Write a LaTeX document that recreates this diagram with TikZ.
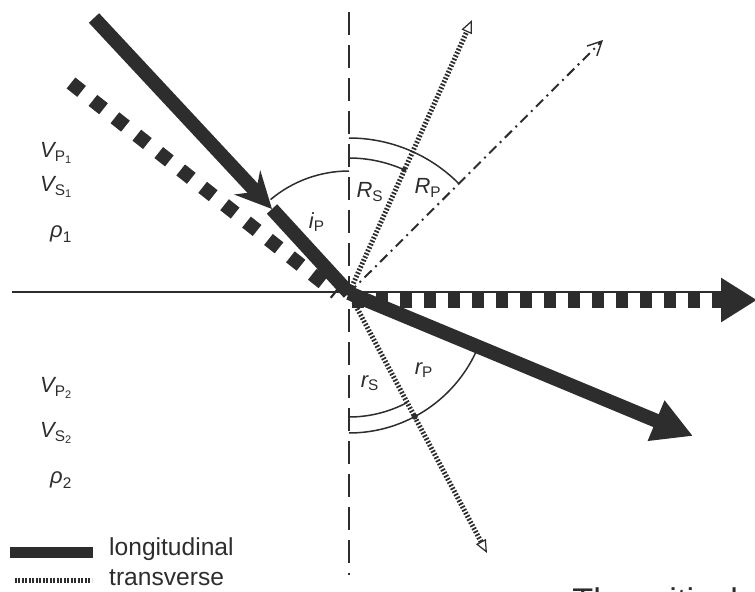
\documentclass[tikz,border=0pt]{standalone}
\usepackage{amsmath}
\usepackage{fontspec}
\setmainfont{Liberation Sans}
\usepackage{tikz}
\usetikzlibrary{arrows.meta}
\definecolor{ink}{RGB}{45,45,45}
% quantity with a nested subscript, e.g. V_{P_1}
\newcommand{\quant}[3]{$\textit{#1}_{\text{#2}_{\text{#3}}}$}
\newcommand{\ang}[2]{$\textit{#1}_{\text{#2}}$}

\begin{document}
\begin{tikzpicture}[x=0.02cm,y=0.02cm,font=\fontsize{12.5}{14}\selectfont,text=ink,
    long/.style={ink,line width=0.28cm},
    trans/.style={ink,line width=0.28cm,dash pattern=on 0.27cm off 0.29cm},
    transflat/.style={ink,line width=0.3cm,dash pattern=on 0.25cm off 0.23cm},
    transthin/.style={ink,line width=0.1cm,dash pattern=on 0.035cm off 0.035cm},
    reflp/.style={ink,line width=0.04cm,dash pattern=on 0.2cm off 0.1cm on 0.04cm off 0.1cm},
    normalline/.style={ink,line width=0.05cm,dash pattern=on 0.46cm off 0.2cm},
    angarc/.style={ink,line width=0.03cm},
    openhead/.style={-{Triangle[open,line width=0.7pt,length=0.26cm,width=0.22cm]}}]
  \useasboundingbox (0,0) rectangle (755,-592);
  % --- key points (pixel grid, y downwards as negative) ---
  \coordinate (O)   at (349,-293);
  \coordinate (Pin) at (94,-18);   \coordinate (Pmid) at (272,-209);
  \coordinate (Sin) at (71,-83);   \coordinate (Send) at (336,-293);
  \coordinate (Pt)  at (693,-436); % refracted P
  \coordinate (Sh0) at (352,-300); \coordinate (St) at (757,-300); % along interface
  \coordinate (RSt) at (472,-20);  \coordinate (RPt) at (603,-40);
  \coordinate (TSt) at (487,-553);
  \coordinate (IfL) at (12,-292);  \coordinate (IfR) at (723,-292);
  \coordinate (Ntop) at (349,-12); \coordinate (Nbot) at (349,-575);
  % --- interface and normal ---
  \draw[ink,line width=0.05cm] (IfL) -- (IfR);
  \draw[normalline] (Ntop) -- (Nbot);
  % --- angle arcs ---
  \draw[angarc] ([shift={(90:122)}]O) arc (90:130:122);
  \draw[angarc] ([shift={(90:135)}]O) arc (90:66:135);
  \fill[ink] ([shift={(66:135)}]O) circle (2.5);
  \draw[angarc] ([shift={(90:155)}]O) arc (90:45:155);
  \draw[angarc] ([shift={(270:124)}]O) arc (270:298:124);
  \draw[angarc] ([shift={(270:140)}]O) arc (270:338:140);
  \fill[ink] ([shift={(298:140)}]O) circle (3);
  % --- thin rays ---
  \draw[transthin,openhead] (O) -- (RSt);
  \draw[transthin,openhead] (O) -- (TSt);
  \draw[reflp,-{Straight Barb[line width=0.8pt,length=0.28cm,width=0.28cm]}] (O) -- (RPt);
  % --- thick rays ---
  \draw[trans] (Sin) -- (Send);
  \draw[transflat,-{Triangle[length=0.72cm,width=0.84cm]}] (Sh0) -- (St);
  \draw[long,-{Stealth[length=0.72cm,width=0.7cm,inset=0.25cm]}] (Pin) -- (Pmid);
  \draw[long] (Pmid) -- (O);
  \draw[long,-{Triangle[length=0.8cm,width=0.82cm]}] (O) -- (Pt);
  % --- angle labels ---
  \node (iP) at (317,-222) {\ang{i}{P}};
  \node (RS) at (370,-192) {\ang{R}{S}};
  \node (RP) at (428,-188) {\ang{R}{P}};
  \node (rS) at (370,-383) {\ang{r}{S}};
  \node (rP) at (424,-370) {\ang{r}{P}};
  % --- medium properties ---
  \node[anchor=west] (vp1) at (34,-153) {\quant{V}{P}{1}};
  \node[anchor=west] (vs1) at (34,-187) {\quant{V}{S}{1}};
  \node[anchor=west] (rho1) at (44,-234) {$\textit{ρ}_{\text{1}}$};
  \node[anchor=west] (vp2) at (34,-388) {\quant{V}{P}{2}};
  \node[anchor=west] (vs2) at (34,-433) {\quant{V}{S}{2}};
  \node[anchor=west] (rho2) at (44,-480) {$\textit{ρ}_{\text{2}}$};
  % --- legend ---
  \draw[ink,line width=0.22cm] (10,-552.5) -- (93,-552.5);
  \node[anchor=west,font=\fontsize{14}{16}\selectfont] (leglong) at (103,-549) {longitudinal};
  \draw[transthin] (15,-580.5) -- (92,-580.5);
  \node[anchor=west,font=\fontsize{14}{16}\selectfont] (legtrans) at (103,-578) {transverse};
  % cut caption at the bottom edge
  \node[anchor=base west,inner sep=0pt,font=\fontsize{19.5}{22}\selectfont] (caption) at (572,-612) {The critical};
\end{tikzpicture}
\end{document}
